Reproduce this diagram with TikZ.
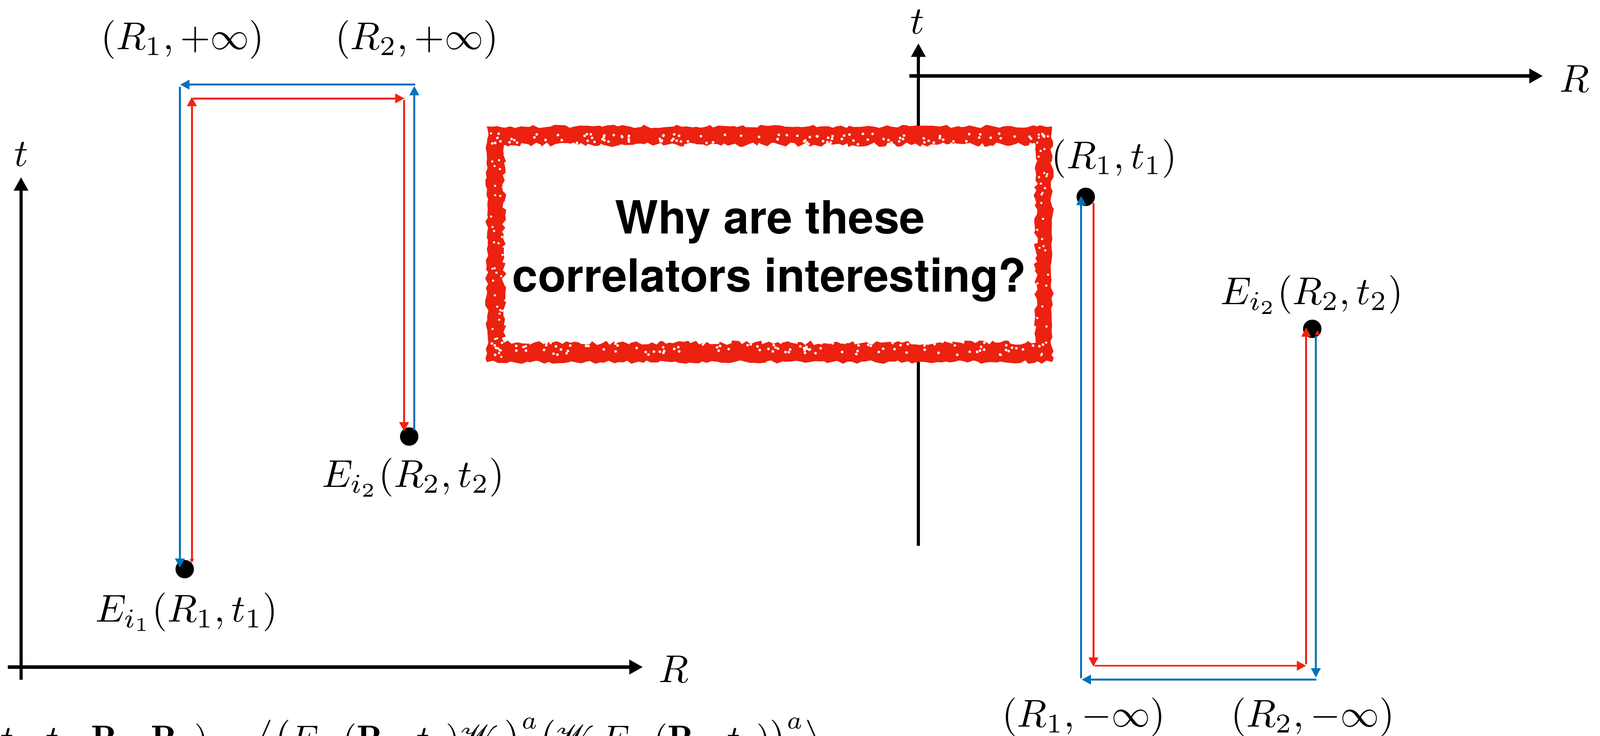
\documentclass[tikz,border=0pt]{standalone}
\usepackage{fontspec}
\usepackage{mathrsfs}
\newfontfamily\heros{TeX Gyre Heros}
\usetikzlibrary{arrows.meta,decorations.pathmorphing}
\definecolor{pblue}{RGB}{0,114,188}
\definecolor{pred}{RGB}{240,34,18}
\definecolor{boxred}{RGB}{236,33,16}
\begin{document}
\begin{tikzpicture}[x=0.263pt,y=-0.263pt,
  haxis/.style={line width=0.95pt,-{Triangle[length=3.5pt,width=3.6pt]}},
  vaxis/.style={line width=0.8pt,-{Triangle[length=3.5pt,width=3.6pt]}},
  bpath/.style={pblue,line width=0.5pt,-{Triangle[length=2.4pt,width=2.4pt]}},
  rpath/.style={pred,line width=0.5pt,-{Triangle[length=2.4pt,width=2.4pt]}},
  lab/.style={inner sep=0pt,anchor=base},
  dotstyle/.style={circle,fill=black,inner sep=0pt,minimum size=4.74pt},
  qtext/.style={inner sep=0pt,anchor=base,font={\fontsize{11.8}{14}\selectfont\heros\bfseries}}]

\useasboundingbox (0,0) rectangle (1568,721.3);
\clip (0,0) rectangle (1568,721.3);

% ---------- left axes ----------
\coordinate (lo) at (20.6,666.6);
\coordinate (ltop) at (20.6,173.7);
\draw[vaxis] (lo) -- (ltop);
\coordinate (lRs) at (7.8,654);
\coordinate (lRe) at (630,654);
\draw[haxis] (lRs) -- (lRe);
\node[lab] (lt) at (21,163) {$t$};
\node[lab] (lR) at (660,669) {$R$};

% ---------- right axes ----------
\coordinate (ro) at (900,535);
\coordinate (rtop) at (900,42.5);
\draw[vaxis] (ro) -- (rtop);
\coordinate (rRs) at (891,74.5);
\coordinate (rRe) at (1512,74.5);
\draw[haxis] (rRs) -- (rRe);
\node[lab] (rt) at (899,33) {$t$};
\node[lab] (rR) at (1543,90) {$R$};

% ---------- dots ----------
\node[dotstyle] (d1) at (181,558) {};
\node[dotstyle] (d2) at (401,428) {};
\node[dotstyle] (d3) at (1064,193) {};
\node[dotstyle] (d4) at (1286,322.4) {};

% ---------- left contour ----------
\coordinate (lb1) at (406,422);
\coordinate (lb2) at (406,84.3);
\coordinate (lb3) at (407,83);
\coordinate (lb4) at (176.5,83);
\coordinate (lb5) at (176.3,85);
\coordinate (lb6) at (176.3,556.7);
\draw[bpath] (lb1) -- (lb2);
\draw[bpath] (lb3) -- (lb4);
\draw[bpath] (lb5) -- (lb6);

\coordinate (lr1) at (188,549);
\coordinate (lr2) at (188,95);
\coordinate (lr3) at (189,96.5);
\coordinate (lr4) at (396.4,96.5);
\coordinate (lr5) at (396,98);
\coordinate (lr6) at (396,423);
\draw[rpath] (lr1) -- (lr2);
\draw[rpath] (lr3) -- (lr4);
\draw[rpath] (lr5) -- (lr6);
\fill[pred] (185.8,548) -- (190.2,548) -- (188,552) -- cycle;

% ---------- right contour ----------
\coordinate (rb1) at (1059.5,665);
\coordinate (rb2) at (1059.5,192);
\coordinate (rb3) at (1290,666.3);
\coordinate (rb4) at (1060,666.3);
\coordinate (rb5) at (1289.5,329.3);
\coordinate (rb6) at (1289.5,664.3);
\draw[bpath] (rb1) -- (rb2);
\draw[bpath] (rb3) -- (rb4);
\draw[bpath] (rb5) -- (rb6);

\coordinate (rr1) at (1071.5,199);
\coordinate (rr2) at (1071.5,653.7);
\coordinate (rr3) at (1072.5,652.7);
\coordinate (rr4) at (1280,652.7);
\coordinate (rr5) at (1280,651.3);
\coordinate (rr6) at (1280,321);
\draw[rpath] (rr1) -- (rr2);
\draw[rpath] (rr3) -- (rr4);
\draw[rpath] (rr5) -- (rr6);
\fill[pred] (1288.6,328.5) -- (1293.4,328.5) -- (1291,323.8) -- cycle;

% ---------- labels ----------
\node[lab] (lRi) at (179,48.4) {$(R_1, +\infty)$};
\node[lab] (lRii) at (408.5,48.4) {$(R_2, +\infty)$};
\node[lab] (lE2) at (405,477.5) {$E_{i_2}(R_2, t_2)$};
\node[lab] (lE1) at (183,609.5) {$E_{i_1}(R_1, t_1)$};
\node[lab] (rP1) at (1092,165.3) {$(R_1, t_1)$};
\node[lab] (rE2) at (1285.6,298.5) {$E_{i_2}(R_2, t_2)$};
\node[lab] (rM1) at (1062,712.5) {$(R_1, -\infty)$};
\node[lab] (rM2) at (1286.5,712.5) {$(R_2, -\infty)$};

% ---------- formula (cut by the lower edge) ----------
\node[inner sep=0pt,anchor=base west,scale=0.93] (formula) at (-13.8,736)
 {$(t_1, t_2, \mathbf{R}_1, \mathbf{R}_2) = \big\langle \big(E_{i_1}(\mathbf{R}_1, t_1)\mathscr{W}_1\big)^a \big(\mathscr{W}_2 E_{i_2}(\mathbf{R}_2, t_2)\big)^a \big\rangle$};

% ---------- red box ----------
\fill[boxred, decorate, decoration={random steps,segment length=1.2pt,amplitude=0.45pt}]
  (477,124) -- (1031,124) -- (1031,355) -- (477,355) -- cycle;
\fill[white, decorate, decoration={random steps,segment length=1pt,amplitude=0.6pt}]
  (494,142) -- (1015,142) -- (1015,336) -- (494,336) -- cycle;
\pgfmathsetseed{11}
\foreach \i in {1,...,110}{
  \pgfmathsetmacro\sx{482+545*rnd}
  \pgfmathsetmacro\sy{131+11*rnd}
  \fill[white] (\sx,\sy) circle (0.35pt);
}
\foreach \i in {1,...,110}{
  \pgfmathsetmacro\sx{482+545*rnd}
  \pgfmathsetmacro\sy{336+12*rnd}
  \fill[white] (\sx,\sy) circle (0.35pt);
}
\foreach \i in {1,...,35}{
  \pgfmathsetmacro\sx{481+12*rnd}
  \pgfmathsetmacro\sy{130+220*rnd}
  \fill[white] (\sx,\sy) circle (0.3pt);
  \pgfmathsetmacro\tx{1016+12*rnd}
  \pgfmathsetmacro\ty{130+220*rnd}
  \fill[white] (\tx,\ty) circle (0.3pt);
}
\node[qtext] (q1) at (754.5,229) {Why are these};
\node[qtext] (q2) at (754,286) {correlators interesting?};
\end{tikzpicture}
\end{document}
